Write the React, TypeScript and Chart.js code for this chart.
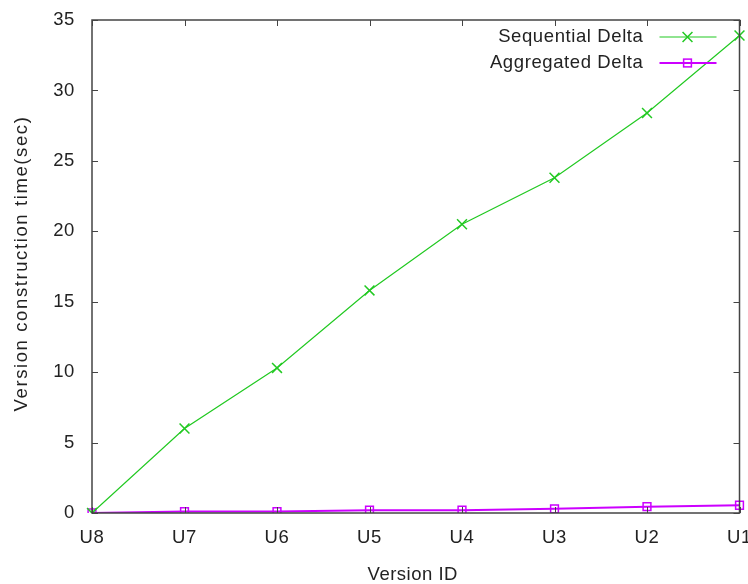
import React, { useEffect, useRef } from "react";
import { Chart, registerables } from "chart.js";

Chart.register(...registerables);

const categories = ["U8", "U7", "U6", "U5", "U4", "U3", "U2", "U1"];
const sequentialDelta = [0, 6.0, 10.3, 15.8, 20.5, 23.8, 28.4, 33.9];
const aggregatedDelta = [0, 0.1, 0.1, 0.2, 0.2, 0.3, 0.45, 0.55];
const yTicks = [0, 5, 10, 15, 20, 25, 30, 35];
const xTitle = "Version ID";
const yTitle = "Version construction time(sec)";
const seriesNames = ["Sequential Delta", "Aggregated Delta"];

const GREEN = "#22c922";
const PURPLE = "#cc00ff";
const TEXT = "#222";
const FONT = "'Liberation Sans', Arial, sans-serif";
const FS = 18.5;

const framePlugin = {
  id: "gnuFrame",
  beforeDraw(chart: any) {
    (chart.ctx as any).letterSpacing = "0.6px";
  },
  afterDatasetsDraw(chart: any) {
    const { ctx, chartArea } = chart;
    const { left, right, top, bottom } = chartArea;
    const xs = chart.scales.x;
    const ys = chart.scales.y;
    ctx.save();
    ctx.strokeStyle = "#444";
    ctx.lineWidth = 1;
    ctx.beginPath();
    const tl = 6;
    yTicks.forEach((v) => {
      const y = Math.round(ys.getPixelForValue(v)) + 0.5;
      ctx.moveTo(left, y);
      ctx.lineTo(left + tl, y);
      ctx.moveTo(right, y);
      ctx.lineTo(right - tl, y);
    });
    categories.forEach((_, i) => {
      const x = Math.round(xs.getPixelForValue(i)) + 0.5;
      ctx.moveTo(x, bottom);
      ctx.lineTo(x, bottom - tl);
      ctx.moveTo(x, top);
      ctx.lineTo(x, top + tl);
    });
    ctx.stroke();
    ctx.lineWidth = 1.5;
    ctx.strokeRect(left, top, right - left, bottom - top);
    ctx.restore();
  },
  afterDraw(chart: any) {
    const { ctx, chartArea } = chart;
    const { left, right, top, bottom } = chartArea;
    const items = [
      { label: seriesNames[0], color: GREEN, style: "crossRot", lw: 1.2, r: 7 },
      { label: seriesNames[1], color: PURPLE, style: "rect", lw: 2, r: 5.5 },
    ];
    ctx.save();
    ctx.font = `${FS}px ${FONT}`;
    ctx.fillStyle = TEXT;
    ctx.textBaseline = "middle";
    // axis titles
    ctx.letterSpacing = "0.5px";
    ctx.textAlign = "center";
    ctx.fillText(xTitle, (left + right) / 2 - 3, 575);
    ctx.save();
    ctx.translate(21.5, (top + bottom) / 2 - 3);
    ctx.rotate(-Math.PI / 2);
    ctx.letterSpacing = "1.6px";
    ctx.fillText(yTitle, 0, 0);
    ctx.restore();
    // legend
    ctx.letterSpacing = "0.6px";
    ctx.textAlign = "right";
    items.forEach((it, i) => {
      const y = top + 17 + i * 26;
      ctx.fillStyle = TEXT;
      ctx.fillText(it.label, right - 96, y);
      ctx.strokeStyle = it.color;
      ctx.lineWidth = it.lw;
      ctx.beginPath();
      ctx.moveTo(right - 80, y);
      ctx.lineTo(right - 23, y);
      ctx.stroke();
      ctx.lineWidth = 1.5;
      const cx = right - 52;
      if (it.style === "crossRot") {
        const d = it.r * Math.SQRT1_2;
        ctx.beginPath();
        ctx.moveTo(cx - d, y - d);
        ctx.lineTo(cx + d, y + d);
        ctx.moveTo(cx - d, y + d);
        ctx.lineTo(cx + d, y - d);
        ctx.stroke();
      } else {
        const s = it.r * Math.SQRT1_2;
        ctx.strokeRect(cx - s, y - s, 2 * s, 2 * s);
      }
    });
    ctx.restore();
  },
};

export default function App() {
  const ref = useRef<HTMLCanvasElement>(null);
  useEffect(() => {
    if (!ref.current) return;
    const chart = new Chart(ref.current, {
      type: "line",
      data: {
        labels: categories,
        datasets: [
          {
            label: seriesNames[0],
            data: sequentialDelta,
            borderColor: GREEN,
            backgroundColor: "transparent",
            borderWidth: 1.2,
            pointStyle: "crossRot",
            pointRadius: 7,
            pointBorderWidth: 1.5,
            pointBorderColor: GREEN,
            tension: 0,
          },
          {
            label: seriesNames[1],
            data: aggregatedDelta,
            borderColor: PURPLE,
            backgroundColor: "transparent",
            borderWidth: 2,
            pointStyle: "rect",
            pointRadius: 5.5,
            pointBorderWidth: 1.5,
            pointBorderColor: PURPLE,
            pointBackgroundColor: "transparent",
            tension: 0,
          },
        ],
      },
      options: {
        animation: false,
        responsive: false,
        maintainAspectRatio: false,
        layout: { padding: { top: 20, right: 8, left: 0, bottom: 0 } },
        plugins: {
          legend: { display: false },
          tooltip: { enabled: false },
        },
        scales: {
          x: {
            type: "category",
            offset: false,
            grid: { display: false, drawTicks: false },
            border: { display: false },
            ticks: {
              color: TEXT,
              font: { family: FONT, size: FS },
              padding: 14,
              maxRotation: 0,
              autoSkip: false,
            },
            title: { display: false, text: xTitle },
            afterFit(scale: any) {
              scale.height = 71;
              scale.paddingLeft = 0;
              scale.paddingRight = 0;
            },
          },
          y: {
            min: 0,
            max: 35,
            grid: { display: false, drawTicks: false },
            border: { display: false },
            ticks: {
              stepSize: 5,
              color: TEXT,
              font: { family: FONT, size: FS },
              padding: 17,
            },
            title: { display: false, text: yTitle },
            afterFit(scale: any) {
              scale.width = 92;
              scale.paddingTop = 0;
              scale.paddingBottom = 0;
            },
          },
        },
      },
      plugins: [framePlugin],
    });
    return () => chart.destroy();
  }, []);
  return (
    <div style={{ position: "fixed", left: 0, top: 0, width: 748, height: 584, background: "#fff" }}>
      <canvas ref={ref} width={748} height={584} style={{ width: 748, height: 584 }} />
    </div>
  );
}
